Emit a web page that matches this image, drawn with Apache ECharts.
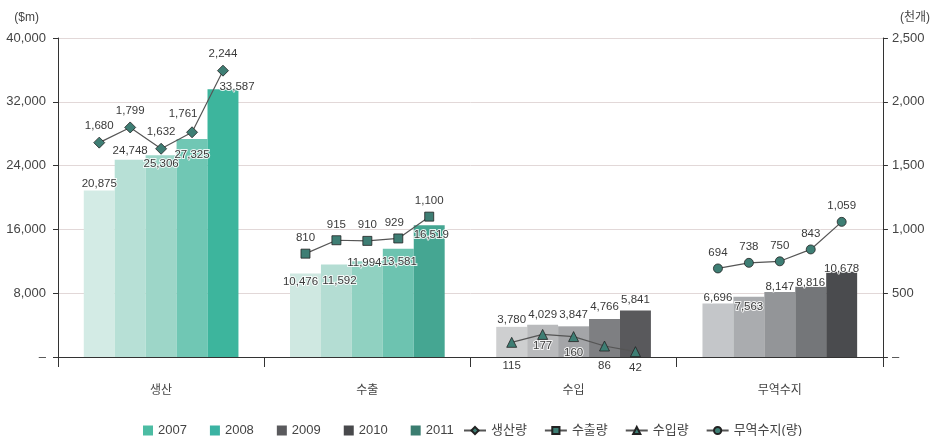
<!DOCTYPE html>
<html>
<head>
<meta charset="utf-8">
<script src="https://cdn.jsdelivr.net/npm/echarts@6/dist/echarts.min.js"></script>
<style>
  html, body { margin: 0; padding: 0; background: #fff; }
  #chart { width: 933px; height: 436px; }
</style>
</head>
<body>
<div id="chart"></div>
<script>
// Categories and years
const categories = ['생산', '수출', '수입', '무역수지'];
const years = ['2007', '2008', '2009', '2010', '2011'];

// Values in $m, one entry per year
const production   = [20875, 24748, 25306, 27325, 33587];
const exportsValue = [10476, 11592, 11994, 13581, 16519];
const importsValue = [3780, 4029, 3847, 4766, 5841];
const tradeBalance = [6696, 7563, 8147, 8816, 10678];

// Volumes in thousand units, one entry per year
const productionQty = [1680, 1799, 1632, 1761, 2244];
const exportQty     = [810, 915, 910, 929, 1100];
const importQty     = [115, 177, 160, 86, 42];
const balanceQty    = [694, 738, 750, 843, 1059];

const lineNames = ['생산량', '수출량', '수입량', '무역수지(량)'];

// Axis ticks
const leftTicks = [0, 8000, 16000, 24000, 32000, 40000];
const rightTicks = [0, 500, 1000, 1500, 2000, 2500];

const valueByCategory = [production, exportsValue, importsValue, tradeBalance];
const qtyByCategory = [productionQty, exportQty, importQty, balanceQty];

// Bar shades per category (light -> dark across years)
const barPalette = [
  ['#d3ebe5', '#b7e0d6', '#9dd6c8', '#70c7b4', '#3db59d'],
  ['#cfe8e1', '#b4ddd3', '#90d1c1', '#6dc3b0', '#45a692'],
  ['#cecfd0', '#b9babc', '#a4a5a8', '#7e7f82', '#59595c'],
  ['#c4c6c9', '#aaacaf', '#939598', '#747679', '#4a4b4e']
];
const legendColors = ['#4cbca3', '#3bb3a3', '#5a5a5d', '#48494c', '#3b7d70'];

// Label placement for each bar [category][year]: [position, distance, offset]
const barLabelPlace = [
  [['top', 1, [0, 0]], ['top', 3, [0, 0]], ['insideTop', 3, [0, 0]], ['insideTop', 10, [0, 0]], ['top', 5, [14, 8]]],
  [['insideTop', 3, [-5, 0]], ['insideTop', 11, [3, 0]], ['top', -7, [-3, 0]], ['insideTop', 7, [1, 0]], ['insideTop', 4, [2, 0]]],
  [['top', 1, [0, 0]], ['top', 4, [0, 0]], ['top', 6, [0, 0]], ['top', 6, [0, 0]], ['top', 5, [0, 0]]],
  [['top', 0, [0, 0]], ['insideTop', 4, [0, 0]], ['top', -1, [0, 0]], ['top', -2, [0, 0]], ['top', -3, [0, 0]]]
];
// Label placement for each line point [line][year]
const lineLabelPlace = [
  [['top', [0, 0]], ['top', [0, 0]], ['top', [0, 0]], ['top', [-9, -2]], ['top', [0, 0]]],
  [['top', [0, 0]], ['top', [0, 0]], ['top', [0, 0]], ['top', [-4, 0]], ['top', [0, 0]]],
  [['bottom', [0, 7]], ['bottom', [0, -5]], ['bottom', [0, 0]], ['bottom', [0, 4]], ['bottom', [0, 0]]],
  [['top', [0, 0]], ['top', [0, 0]], ['top', [0, 0]], ['top', [0, 0]], ['top', [0, 0]]]
];
const lineSymbols = ['diamond', 'rect', 'triangle', 'circle'];
const lineSymbolSizes = [11, 9, 10, 9];

const FONT = '"Liberation Sans", "Noto Sans CJK KR", sans-serif';
const fmt = v => v.toLocaleString('en-US');
const TEXT = '#3a3a3a';
const LABEL_SIZE = 11.5;

// Bars occupy (1 - gap) of each category band, split evenly among the years
const BAR_GAP = 0.25;
const barSlot = (1 - BAR_GAP) / years.length;

const barSeries = years.map((y, yi) => ({
  name: y,
  type: 'bar',
  color: legendColors[yi],
  barGap: 0,
  barCategoryGap: (BAR_GAP * 100) + '%',
  z: 2,
  data: categories.map((c, ci) => {
    const p = barLabelPlace[ci][yi];
    return {
      value: valueByCategory[ci][yi],
      itemStyle: { color: barPalette[ci][yi] },
      label: {
        show: true,
        position: p[0],
        distance: p[1],
        offset: p[2],
        formatter: d => fmt(d.value),
        color: TEXT,
        fontSize: LABEL_SIZE,
        fontFamily: FONT,
        textBorderColor: 'rgba(255,255,255,0.85)',
        textBorderWidth: 2
      }
    };
  })
}));

const lineSeries = lineNames.map((name, ci) => ({
  name: name,
  type: 'line',
  xAxisIndex: 1,
  yAxisIndex: 1,
  symbol: lineSymbols[ci],
  symbolSize: lineSymbolSizes[ci],
  clip: false,
  z: 5,
  color: '#3e7e74',
  lineStyle: { color: '#555', width: 1.2 },
  itemStyle: { color: '#3e7e74', borderColor: '#222', borderWidth: 0.8 },
  data: qtyByCategory[ci].map((v, yi) => {
    const p = lineLabelPlace[ci][yi];
    return {
      value: [ci + 0.5 + (yi - (years.length - 1) / 2) * barSlot, v],
      label: {
        show: true,
        position: p[0],
        offset: p[1],
        formatter: d => fmt(d.value[1]),
        color: TEXT,
        fontSize: LABEL_SIZE,
        fontFamily: FONT,
        textBorderColor: 'rgba(255,255,255,0.85)',
        textBorderWidth: 2
      }
    };
  })
}));

const chart = echarts.init(document.getElementById('chart'));
chart.setOption({
  animation: false,
  backgroundColor: '#fff',
  textStyle: { fontFamily: FONT },
  grid: { left: 58, right: 48, top: 38, bottom: 79 },
  legend: [
    {
      data: years,
      left: 143,
      top: 424,
      padding: 0,
      icon: 'rect',
      itemWidth: 10,
      itemHeight: 10,
      itemGap: 23,
      textStyle: { fontSize: 13, color: '#444', fontFamily: FONT }
    },
    {
      data: lineNames,
      left: 463,
      top: 424,
      padding: 0,
      itemWidth: 22,
      itemHeight: 9,
      itemGap: 17,
      textStyle: { fontSize: 13, color: '#444', fontFamily: FONT }
    }
  ],
  xAxis: [
    {
      type: 'category',
      data: categories,
      axisLine: { lineStyle: { color: '#333', width: 1 } },
      axisTick: { show: true, interval: 0, length: 10, lineStyle: { color: '#333' } },
      axisLabel: { color: '#444', fontSize: 12, margin: 28, fontFamily: FONT }
    },
    {
      type: 'value',
      min: 0,
      max: categories.length,
      show: false
    }
  ],
  yAxis: [
    {
      type: 'value',
      min: leftTicks[0],
      max: leftTicks[leftTicks.length - 1],
      interval: leftTicks[1] - leftTicks[0],
      name: '($m)',
      nameGap: 14,
      nameTextStyle: { color: '#444', fontSize: 12, align: 'right', padding: [0, 19, 0, 0], fontFamily: FONT },
      axisLine: { show: true, lineStyle: { color: '#333', width: 1 } },
      axisTick: { show: true, length: 5, lineStyle: { color: '#333' } },
      axisLabel: {
        color: '#444', fontSize: 13, margin: 12, fontFamily: FONT,
        formatter: v => v === 0 ? '–' : fmt(v)
      },
      splitLine: { show: true, lineStyle: { color: '#e2d8d8', width: 1 } }
    },
    {
      type: 'value',
      min: rightTicks[0],
      max: rightTicks[rightTicks.length - 1],
      interval: rightTicks[1] - rightTicks[0],
      name: '(천개)',
      nameGap: 14,
      nameTextStyle: { color: '#444', fontSize: 12, align: 'left', padding: [0, 0, 0, 17], fontFamily: FONT },
      axisLine: { show: true, lineStyle: { color: '#333', width: 1 } },
      axisTick: { show: true, length: 5, lineStyle: { color: '#333' } },
      axisLabel: {
        color: '#444', fontSize: 13, margin: 9, fontFamily: FONT,
        formatter: v => v === 0 ? '–' : fmt(v)
      },
      splitLine: { show: false }
    }
  ],
  series: [...barSeries, ...lineSeries]
});
</script>
</body>
</html>
